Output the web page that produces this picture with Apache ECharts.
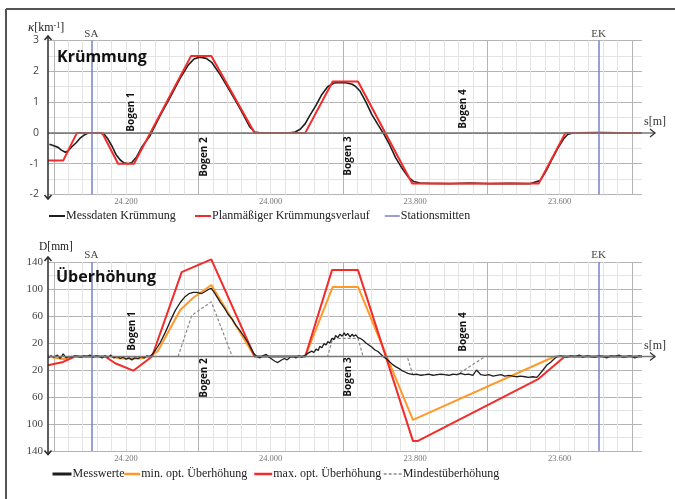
<!DOCTYPE html>
<html>
<head>
<meta charset="utf-8">
<script src="https://cdn.jsdelivr.net/npm/echarts@6/dist/echarts.min.js"></script>
<style>
  html, body { margin: 0; padding: 0; background: #fff; }
  #main { width: 675px; height: 499px; }
</style>
</head>
<body>
<div id="main"></div>
<script>
// Stationing in metres; the axis runs from km 24.308 (left) down to km 23.486 (right)
const sMin = 23486, sMax = 24308;
const labelStations = [23600, 23800, 24000, 24200];
const stationSA = 24248, stationEK = 23546;

// ---- Krümmung [1/km] ----
const kMessStation = [24306, 24300, 24294, 24290, 24284, 24280, 24275, 24269, 24264, 24258, 24253, 24236, 24230, 24225, 24219, 24214, 24208, 24203, 24197, 24192, 24186, 24178, 24167, 24153, 24139, 24125, 24114, 24106, 24098, 24089, 24081, 24070, 24056, 24042, 24029, 24022, 24015, 23973, 23966, 23959, 23952, 23946, 23937, 23929, 23921, 23912, 23904, 23896, 23887, 23882, 23876, 23868, 23860, 23851, 23843, 23835, 23827, 23818, 23810, 23802, 23793, 23780, 23752, 23724, 23697, 23669, 23641, 23637, 23627, 23619, 23611, 23603, 23594, 23589, 23583, 23578, 23544, 23517, 23486];
const kMessValue = [-0.37, -0.42, -0.47, -0.55, -0.63, -0.58, -0.45, -0.32, -0.18, -0.07, -0.01, 0.0, -0.05, -0.2, -0.45, -0.7, -0.88, -0.97, -1.0, -0.96, -0.8, -0.45, -0.1, 0.55, 1.15, 1.78, 2.2, 2.4, 2.46, 2.42, 2.28, 1.9, 1.35, 0.78, 0.2, 0.03, 0.0, 0.0, 0.03, 0.12, 0.3, 0.55, 0.9, 1.25, 1.5, 1.62, 1.64, 1.63, 1.58, 1.5, 1.35, 1.0, 0.6, 0.25, -0.05, -0.4, -0.8, -1.15, -1.42, -1.58, -1.63, -1.64, -1.65, -1.63, -1.65, -1.64, -1.65, -1.62, -1.55, -1.25, -0.88, -0.52, -0.18, -0.05, -0.01, 0.0, 0.01, 0.0, 0.0];
const kPlanStation = [24308, 24287, 24268, 24233, 24211, 24189, 24110, 24082, 24022, 23952, 23914, 23879, 23804, 23629, 23592, 23486];
const kPlanValue = [-0.9, -0.9, 0, 0, -1, -1, 2.5, 2.5, 0, 0, 1.67, 1.67, -1.64, -1.64, 0, 0];

// ---- Überhöhung [mm] ----
const dMessStation = [24308, 24304, 24300, 24295, 24291, 24287, 24283, 24279, 24275, 24271, 24266, 24262, 24258, 24254, 24250, 24246, 24241, 24237, 24233, 24229, 24225, 24221, 24217, 24212, 24208, 24204, 24200, 24196, 24192, 24188, 24183, 24179, 24175, 24171, 24167, 24163, 24159, 24153, 24146, 24139, 24132, 24125, 24118, 24113, 24107, 24102, 24096, 24091, 24085, 24082, 24078, 24074, 24070, 24064, 24059, 24053, 24048, 24042, 24037, 24031, 24027, 24023, 24019, 24015, 24011, 24006, 24002, 23998, 23994, 23990, 23986, 23981, 23977, 23973, 23969, 23965, 23961, 23957, 23952, 23948, 23946, 23943, 23940, 23937, 23934, 23932, 23929, 23926, 23923, 23921, 23918, 23915, 23912, 23910, 23907, 23904, 23901, 23898, 23896, 23893, 23890, 23887, 23885, 23882, 23879, 23876, 23872, 23868, 23864, 23860, 23856, 23851, 23847, 23843, 23839, 23835, 23831, 23827, 23822, 23818, 23814, 23810, 23806, 23802, 23798, 23792, 23786, 23781, 23775, 23770, 23764, 23759, 23753, 23748, 23742, 23737, 23731, 23726, 23720, 23715, 23709, 23703, 23698, 23692, 23687, 23681, 23676, 23670, 23665, 23659, 23654, 23648, 23643, 23637, 23632, 23629, 23623, 23618, 23612, 23607, 23603, 23598, 23594, 23590, 23585, 23579, 23573, 23568, 23562, 23557, 23551, 23546, 23540, 23535, 23529, 23524, 23518, 23513, 23507, 23502, 23496, 23490, 23486];
const dMessValue = [-2, 1, -1, 2, -3, 4, -2, 0, -1, 1, 0, -1, 1, 0, 2, -1, 1, 0, -2, 1, -1, 2, -2, 0, -3, -1, -4, -2, -5, -2, -3, 0, -2, 1, 0, 4, 10, 20, 35, 52, 68, 80, 89, 93, 95, 95, 93, 96, 100, 101, 95, 88, 81, 72, 63, 55, 46, 38, 30, 20, 12, 4, 0, -2, 1, 3, -1, -4, -7, -9, -6, -3, -5, -1, 0, -2, 1, -1, 2, 5, 3, 8, 6, 11, 9, 15, 13, 19, 17, 22, 20, 27, 25, 31, 28, 33, 30, 35, 31, 34, 29, 33, 30, 32, 28, 27, 24, 20, 17, 14, 10, 7, 3, -1, -4, -8, -12, -15, -18, -21, -23, -25, -26, -27, -26, -28, -27, -26, -28, -27, -26, -27, -28, -26, -27, -25, -27, -26, -28, -20, -27, -28, -27, -29, -28, -27, -29, -28, -29, -30, -29, -30, -31, -30, -31, -28, -20, -13, -8, -3, 0, 1, 0, -1, 1, 0, 2, -1, 1, 0, -1, 1, 0, -2, 1, 0, 2, -1, 0, 1, -2, 1, 0];
const dMinStation = [24308, 24298, 24287, 24275, 24222, 24208, 24181, 24167, 24156, 24125, 24107, 24082, 24022, 23952, 23914, 23879, 23803, 23607, 23486];
const dMinValue = [0, -2, -4, 0, 0, -3, -3, 0, 8, 69, 87, 106, 0, 0, 103, 103, -94, 0, 0];
const dMaxStation = [24308, 24287, 24271, 24229, 24215, 24190, 24164, 24123, 24082, 24022, 23952, 23915, 23879, 23803, 23796, 23629, 23593, 23486];
const dMaxValue = [-13, -8, 0, 0, -10, -21, 0, 125, 144, 0, 0, 128, 128, -125, -125, -33, 0, 0];
const dMindStation = [24308, 24128, 24109, 24082, 24053, 23921, 23914, 23879, 23872, 23811, 23803, 23742, 23703, 23486];
const dMindValue = [0, 0, 61, 81, 0, 0, 27, 27, 0, 0, -27, -27, 0, 0];

const zip = (a, b) => a.map((s, i) => [s, b[i]]);

// grid lines every 20 m, darker every 200 m
const gridStations = [];
for (let s = 23500; s <= 24300; s += 20) gridStations.push(s);

const LIGHT = '#e4e4e4', MID = '#b4b4b4', ZERO = '#8a8a8a';
const RED = '#f22b2b', ORANGE = '#ff9a2a', BLUE = '#7d89cf', BLACK = '#1e1e1e';
const SERIF = '"Liberation Serif", "DejaVu Serif", serif';
const SANS = '"Open Sans", "DejaVu Sans", sans-serif';

function xAxisFor(gridIndex) {
  return {
    type: 'value', gridIndex, inverse: true, min: sMin, max: sMax,
    axisLine: { show: false },
    axisTick: { show: false, customValues: gridStations },
    axisLabel: {
      customValues: labelStations, margin: 3,
      formatter: v => (v / 1000).toFixed(3),
      fontFamily: SERIF, fontSize: 8.5, color: '#777'
    },
    splitLine: { show: true, lineStyle: { width: 1, color: [MID, LIGHT, LIGHT, LIGHT, LIGHT, LIGHT, LIGHT, LIGHT, LIGHT, LIGHT] } }
  };
}

function stationLines(xi, yi) {
  return {
    name: 'Stationsmitten', type: 'line', xAxisIndex: xi, yAxisIndex: yi,
    data: [], color: BLUE, symbol: 'none', lineStyle: { color: BLUE, width: 1.6 },
    markLine: {
      silent: true, symbol: 'none', animation: false,
      lineStyle: { color: BLUE, width: 1.6, type: 'solid' },
      label: { show: true, position: 'end', formatter: '{b}', distance: 1, fontFamily: SERIF, fontSize: 11, color: '#444' },
      data: [{ name: 'SA', xAxis: stationSA }, { name: 'EK', xAxis: stationEK }]
    }
  };
}

function lineSeries(name, xi, data, color, width, dashed, z) {
  return {
    name, type: 'line', xAxisIndex: xi, yAxisIndex: xi, data, color,
    symbol: 'none', clip: false, z,
    lineStyle: { color, width, type: dashed ? [3, 2] : 'solid' }
  };
}

function legendItem(name, left, top, w, lw) {
  return {
    data: [name], left, top, itemWidth: w, itemHeight: 12, selectedMode: false,
    itemStyle: { opacity: 0 },
    lineStyle: { width: lw },
    textStyle: { fontFamily: SERIF, fontSize: 12, color: '#222', padding: [0, 0, 0, -4] }
  };
}

const topTicks = [MID, LIGHT, MID, LIGHT, ZERO, LIGHT, MID, LIGHT, MID, LIGHT, MID];
const botTicks = [MID, LIGHT, MID, LIGHT, MID, LIGHT, MID, ZERO, MID, LIGHT, MID, LIGHT, MID, LIGHT, MID];

const option = {
  backgroundColor: '#fff',
  animation: false,
  grid: [
    { left: 48, top: 40.5, width: 594, height: 154 },
    { left: 48, top: 262, width: 594, height: 189 }
  ],
  xAxis: [xAxisFor(0), xAxisFor(1)],
  yAxis: [
    {
      type: 'value', gridIndex: 0, min: -2, max: 3, interval: 0.5,
      axisLine: { show: false }, axisTick: { show: false },
      axisLabel: { margin: 9, fontFamily: SANS, fontSize: 10.5, color: '#444',
        formatter: v => (Number.isInteger(v) ? String(v) : '') },
      splitLine: { lineStyle: { width: 1, color: topTicks } }
    },
    {
      type: 'value', gridIndex: 1, min: -140, max: 140, interval: 20,
      axisLine: { show: false }, axisTick: { show: false },
      axisLabel: { margin: 5, fontFamily: SERIF, fontSize: 11, color: '#444',
        formatter: v => ([20, 60, 100, 140].includes(Math.abs(v)) ? String(Math.abs(v)) : '') },
      splitLine: { lineStyle: { width: 1, color: botTicks } }
    }
  ],
  legend: [
    legendItem('Messdaten Krümmung', 43, 205, 16, 2),
    legendItem('Planmäßiger Krümmungsverlauf', 189, 205, 16, 2),
    legendItem('Stationsmitten', 379, 205, 15, 1.6),
    legendItem('Messwerte', 46, 463, 19, 3),
    legendItem('min. opt. Überhöhung', 118, 463, 16, 2.5),
    legendItem('max. opt. Überhöhung', 248, 463, 18, 2.5),
    legendItem('Mindestüberhöhung', 378, 463, 18, 1.3)
  ],
  series: [
    stationLines(0, 0),
    lineSeries('Messdaten Krümmung', 0, zip(kMessStation, kMessValue), BLACK, 1.6, false, 3),
    lineSeries('Planmäßiger Krümmungsverlauf', 0, zip(kPlanStation, kPlanValue), RED, 2, false, 4),
    stationLines(1, 1),
    lineSeries('Mindestüberhöhung', 1, zip(dMindStation, dMindValue), '#8a8a8a', 1.2, true, 2),
    lineSeries('min. opt. Überhöhung', 1, zip(dMinStation, dMinValue), ORANGE, 2, false, 3),
    lineSeries('max. opt. Überhöhung', 1, zip(dMaxStation, dMaxValue), RED, 2, false, 4),
    lineSeries('Messwerte', 1, zip(dMessStation, dMessValue), BLACK, 1.3, false, 5)
  ]
};

const chart = echarts.init(document.getElementById('main'), null, { renderer: 'canvas' });
chart.setOption(option);

// axis arrows, titles and annotations
const px = (g, s, v) => chart.convertToPixel({ gridIndex: g }, [s, v]);
const AX = { stroke: '#2a2a2a', lineWidth: 1.5, fill: null };
const graphics = [];

function axesDecor(g, vMin, vMax, tipTop, tipBot) {
  const [xL, y0] = px(g, sMax, 0);
  const xR = px(g, sMin, 0)[0];
  const yT = px(g, sMax, vMax)[1];
  const yB = px(g, sMax, vMin)[1];
  graphics.push(
    { type: 'line', z: 50, shape: { x1: xL, y1: y0, x2: xR + 13, y2: y0 }, style: { stroke: '#777', lineWidth: 1.5 } },
    { type: 'polyline', z: 50, shape: { points: [[xR + 8, y0 - 4], [xR + 13, y0], [xR + 8, y0 + 4]] }, style: { stroke: '#333', lineWidth: 1.3, fill: null } },
    { type: 'line', z: 50, shape: { x1: xL, y1: yT - tipTop, x2: xL, y2: yB + tipBot }, style: AX },
    { type: 'polyline', z: 50, shape: { points: [[xL - 3.5, yT - tipTop + 4], [xL, yT - tipTop], [xL + 3.5, yT - tipTop + 4]] }, style: AX },
    { type: 'polyline', z: 50, shape: { points: [[xL - 3.5, yB + tipBot - 4], [xL, yB + tipBot], [xL + 3.5, yB + tipBot - 4]] }, style: AX },
    { type: 'text', z: 50, x: xR + 2, y: y0 - 11, style: { text: 's[m]', font: '12px ' + SERIF, fill: '#333', textVerticalAlign: 'middle' } }
  );
}
axesDecor(0, -2, 3, 4.5, 4.5);
axesDecor(1, -140, 140, 5, 3.5);

function bogen(text, x, y) {
  graphics.push({ type: 'text', z: 60, x, y, rotation: Math.PI / 2,
    style: { text, font: 'bold 10px ' + SANS, fill: '#111', textAlign: 'center', textVerticalAlign: 'middle' } });
}
bogen('Bogen 1', 131, 112); bogen('Bogen 2', 204, 157); bogen('Bogen 3', 348, 156); bogen('Bogen 4', 463, 109);
bogen('Bogen 1', 132, 331); bogen('Bogen 2', 204, 378); bogen('Bogen 3', 348, 377); bogen('Bogen 4', 463, 332);

graphics.push(
  { type: 'text', z: 60, x: 57, y: 57, style: { text: 'Krümmung', font: 'bold 16px ' + SANS, fill: '#111', textVerticalAlign: 'middle' } },
  { type: 'text', z: 60, x: 56, y: 277, style: { text: 'Überhöhung', font: 'bold 16px ' + SANS, fill: '#111', textVerticalAlign: 'middle' } },
  { type: 'text', z: 60, x: 28, y: 28, style: { rich: { k: { font: 'italic 13px ' + SERIF, fill: '#222' }, t: { font: '12px ' + SERIF, fill: '#222' }, s: { font: '8px ' + SERIF, fill: '#222', verticalAlign: 'top', padding: [0, 0, 4, 0] } }, text: '{k|κ}{t|[km}{s|-1}{t|]}', textVerticalAlign: 'middle' } },
  { type: 'text', z: 60, x: 39, y: 247, style: { text: 'D[mm]', font: '11.5px ' + SERIF, fill: '#222', textVerticalAlign: 'middle' } },
  // outer frame
  { type: 'line', z: 70, shape: { x1: 6, y1: 9, x2: 675, y2: 9 }, style: { stroke: '#555', lineWidth: 2 } },
  { type: 'line', z: 70, shape: { x1: 6, y1: 9, x2: 6, y2: 499 }, style: { stroke: '#555', lineWidth: 2 } }
);

chart.setOption({ graphic: graphics });
</script>
</body>
</html>
